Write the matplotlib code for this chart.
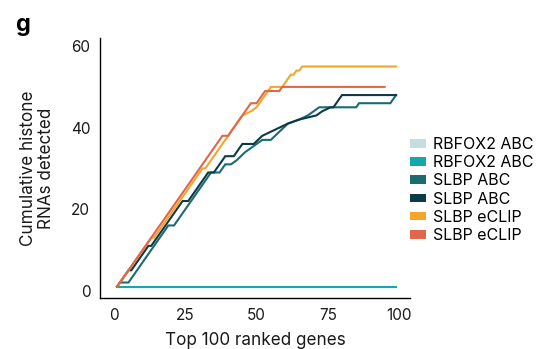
import matplotlib
matplotlib.use("Agg")
import matplotlib.pyplot as plt
from matplotlib.patches import Patch

plt.rcParams['font.family'] = ['Inter', 'DejaVu Sans']

labels = ["RBFOX2 ABC", "RBFOX2 ABC", "SLBP ABC", "SLBP ABC", "SLBP eCLIP", "SLBP eCLIP"]
colors = ["#c6dddd", "#14a7ad", "#1b6b73", "#0d3a47", "#f4a62a", "#e0674a"]

rbfox2_a_x = [1, 99]
rbfox2_a_y = [1, 1]
rbfox2_b_x = [1, 99]
rbfox2_b_y = [1, 1]

slbp_abc1_x = [1, 2, 5, 19, 21, 34, 37, 39, 41, 43, 46, 48, 50, 52, 55, 58, 61, 65, 68, 70, 72, 85, 86, 97, 99]
slbp_abc1_y = [1, 2, 2, 16, 16, 29, 29, 31, 31, 32, 34, 35, 36, 37, 37, 39, 41, 42, 43, 44, 45, 45, 46, 46, 48]

slbp_abc2_x = [1, 5, 6, 12, 13, 24, 26, 33, 35, 37, 39, 42, 44, 45, 49, 52, 55, 58, 61, 65, 71, 73, 76, 77, 80, 99]
slbp_abc2_y = [1, 5, 5, 11, 11, 22, 22, 29, 29, 31, 33, 33, 35, 36, 36, 38, 39, 40, 41, 42, 43, 44, 45, 45, 48, 48]

slbp_eclip1_x = [1, 13, 14, 31, 32, 45, 48, 50, 55, 59, 62, 63, 64, 65, 66, 99]
slbp_eclip1_y = [1, 13, 13, 30, 30, 43, 44, 45, 50, 50, 53, 53, 54, 54, 55, 55]

slbp_eclip2_x = [1, 38, 40, 46, 48, 50, 53, 58, 59, 95]
slbp_eclip2_y = [1, 38, 38, 44, 46, 46, 49, 49, 50, 50]

series = [
    (rbfox2_a_x, rbfox2_a_y),
    (rbfox2_b_x, rbfox2_b_y),
    (slbp_abc1_x, slbp_abc1_y),
    (slbp_abc2_x, slbp_abc2_y),
    (slbp_eclip1_x, slbp_eclip1_y),
    (slbp_eclip2_x, slbp_eclip2_y),
]

xticks = [0, 25, 50, 75, 100]
yticks = [0, 20, 40, 60]

fig = plt.figure(figsize=(5.42, 3.49), dpi=100)
ax = fig.add_axes([0.1845, 0.1461, 0.572, 0.745])

for (x, y), c in zip(series, colors):
    ax.plot(x, y, color=c, lw=1.5, solid_joinstyle='miter')

ax.set_xlim(-5.0, 103.9)
ax.set_ylim(-1.8, 62.0)
ax.set_xticks(xticks)
ax.set_yticks(yticks)
ax.tick_params(length=0, labelsize=11, pad=7, colors='#1a1a1a')
for s in ['top', 'right']:
    ax.spines[s].set_visible(False)
for s in ['left', 'bottom']:
    ax.spines[s].set_linewidth(1.0)
    ax.spines[s].set_color('black')

ax.set_xlabel("Top 100 ranked genes", fontsize=12.3, labelpad=7, color='#1a1a1a')
ax.set_ylabel("Cumulative histone\nRNAs detected", fontsize=12.3, labelpad=11, color='#1a1a1a', linespacing=1.15)

handles = [Patch(facecolor=c, edgecolor='none', label=l) for c, l in zip(colors, labels)]
fig.legend(handles=handles, loc='center left', bbox_to_anchor=(410 / 542, 1 - 190 / 349),
           frameon=False, fontsize=11.5, handlelength=1.0, handleheight=0.45,
           handletextpad=0.45, labelspacing=0.2, borderpad=0, borderaxespad=0)

fig.text(0.028, 0.91, "g", fontsize=17, fontweight='bold', ha='left', va='baseline')

fig.savefig("out.png", dpi=100)
